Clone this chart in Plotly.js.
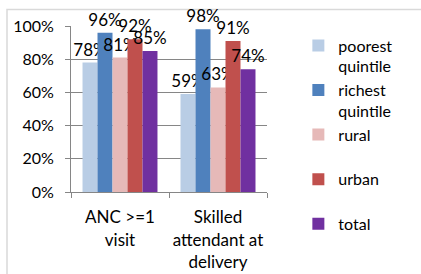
<!DOCTYPE html>
<html>
<head>
<meta charset="utf-8">
<script src="https://cdn.plot.ly/plotly-3.0.1.min.js"></script>
<style>html,body{margin:0;padding:0;background:#fff;}#chart{width:421px;height:274px;}</style>
</head>
<body>
<div id="chart"></div>
<script>
const categories = ["ANC >=1<br>visit", "Skilled<br>attendant at<br>delivery"];
const seriesNames = ["poorest<br>quintile", "richest<br>quintile", "rural<br> ", "urban<br> ", "total<br> "];
const poorest = [78, 59];
const richest = [96, 98];
const rural = [81, 63];
const urban = [92, 91];
const total = [85, 74];
const yTicks = [0, 20, 40, 60, 80, 100];
const colors = ["#B9CDE5", "#4F81BD", "#E6B9B8", "#C0504D", "#7030A0"];

const values = [poorest, richest, rural, urban, total];
const FONT = "Lato, 'Open Sans', sans-serif";
const traces = values.map((v, i) => ({
  type: "bar",
  name: seriesNames[i],
  x: categories,
  y: v,
  marker: {color: colors[i]},
  text: v.map(d => d + "%"),
  textposition: "outside",
  constraintext: "none",
  cliponaxis: false,
  textfont: {family: FONT, size: 17, color: "#000"},
  hoverinfo: "none"
}));

const layout = {
  width: 421, height: 274,
  margin: {l: 71, r: 154, t: 26, b: 82, pad: 0},
  paper_bgcolor: "#fff", plot_bgcolor: "#fff",
  barmode: "group", bargap: 0.235, bargroupgap: 0,
  font: {family: FONT, size: 16, color: "#000"},
  showlegend: true,
  legend: {x: 1.16, xanchor: "left", y: 0.985, yanchor: "top", valign: "top", maxheight: 300,
           font: {family: FONT, size: 16, color: "#000"}, bgcolor: "rgba(0,0,0,0)"},
  xaxis: {type: "category", showline: true, linecolor: "#868686", linewidth: 1,
          ticks: "outside", tickson: "boundaries", ticklen: 5, tickcolor: "#868686",
          ticklabelstandoff: 10, tickangle: 0,
          tickfont: {family: FONT, size: 17, color: "#000"}, showgrid: false},
  yaxis: {range: [0, 100], tickvals: yTicks, ticktext: yTicks.map(t => t + "%"),
          showline: true, linecolor: "#868686", linewidth: 1,
          ticks: "outside", ticklen: 5, tickcolor: "#868686", ticklabelstandoff: 8,
          showgrid: true, gridcolor: "#868686", gridwidth: 1, zeroline: false,
          tickfont: {family: FONT, size: 16, color: "#000"}},
  shapes: [{type: "rect", xref: "paper", yref: "paper", x0: -0.3265, x1: 1.9, y0: -0.6, y1: 1.1,
            line: {color: "#D9D9D9", width: 1.5}, layer: "below"}]
};

Plotly.newPlot("chart", traces, layout, {staticPlot: true, displayModeBar: false});
</script>
</body>
</html>
